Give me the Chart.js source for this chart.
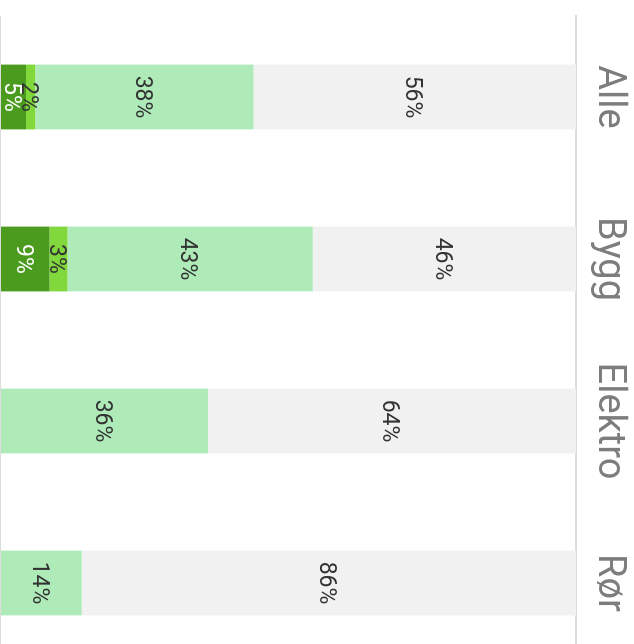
<!DOCTYPE html>
<html>
<head>
<meta charset="utf-8">
<script src="https://cdn.jsdelivr.net/npm/chart.js@4.4.0/dist/chart.umd.min.js"></script>
<style>
  html, body { margin: 0; padding: 0; background: #fff; overflow: hidden; width: 634px; height: 644px; }
  /* chart is drawn as columns, then turned a quarter clockwise */
  #wrap { position: absolute; left: 0; top: 0; width: 664px; height: 642px;
          transform-origin: 0 0; transform: translate(642px, 0) rotate(90deg); }
</style>
</head>
<body>
<div id="wrap"><canvas id="chart" width="664" height="642"></canvas></div>
<script>
const categories = ['Alle', 'Bygg', 'Elektro', 'Rør'];
const seriesNames = ['Serie 1', 'Serie 2', 'Serie 3', 'Serie 4'];
const series1 = [4.5, 8.6, 0, 0];
const series2 = [1.6, 3.1, 0, 0];
const series3 = [37.9, 42.6, 36.1, 14.2];
const series4 = [56.0, 45.7, 63.9, 85.8];

const colors = ['#4b9b1f', '#80d83c', '#afebb8', '#f1f1f1'];
const labelColors = ['#ffffff', '#333333', '#333333', '#333333'];

const barLabels = {
  id: 'barLabels',
  afterDatasetsDraw(chart) {
    const ctx = chart.ctx;
    ctx.save();
    ctx.font = '23px Roboto, "Liberation Sans", sans-serif';
    ctx.textAlign = 'center';
    ctx.textBaseline = 'middle';
    chart.data.datasets.forEach((ds, i) => {
      chart.getDatasetMeta(i).data.forEach((bar, j) => {
        const v = ds.data[j];
        if (!v) return;
        const p = bar.getProps(['x', 'y', 'base'], true);
        ctx.fillStyle = labelColors[i];
        ctx.fillText(Math.round(v) + '%', p.x, (p.y + p.base) / 2 + 3);
      });
    });
    ctx.restore();
  }
};

new Chart(document.getElementById('chart').getContext('2d'), {
  type: 'bar',
  data: {
    labels: categories,
    datasets: [series1, series2, series3, series4].map((d, i) => ({
      label: seriesNames[i],
      data: d,
      backgroundColor: colors[i],
      borderWidth: 0,
      categoryPercentage: 0.5,
      barPercentage: 0.8
    }))
  },
  options: {
    responsive: false,
    animation: false,
    layout: { padding: { top: 0, left: 16, right: 0, bottom: 0 } },
    scales: {
      x: {
        position: 'top',
        stacked: true,
        grid: { display: false, drawTicks: false },
        border: { display: true, color: '#dddddd', width: 2 },
        ticks: {
          color: '#7d7d7d',
          padding: 14,
          font: { family: 'Roboto, "Liberation Sans", sans-serif', size: 38, lineHeight: 1 }
        }
      },
      y: {
        stacked: true,
        min: 0,
        max: 100,
        border: { display: false },
        grid: {
          drawTicks: false,
          lineWidth: 2,
          color: c => (c.tick && c.tick.value === 0 ? '#dddddd' : 'rgba(0,0,0,0)')
        },
        ticks: { display: false }
      }
    },
    plugins: {
      legend: { display: false },
      tooltip: { enabled: false }
    }
  },
  plugins: [barLabels]
});
</script>
</body>
</html>
